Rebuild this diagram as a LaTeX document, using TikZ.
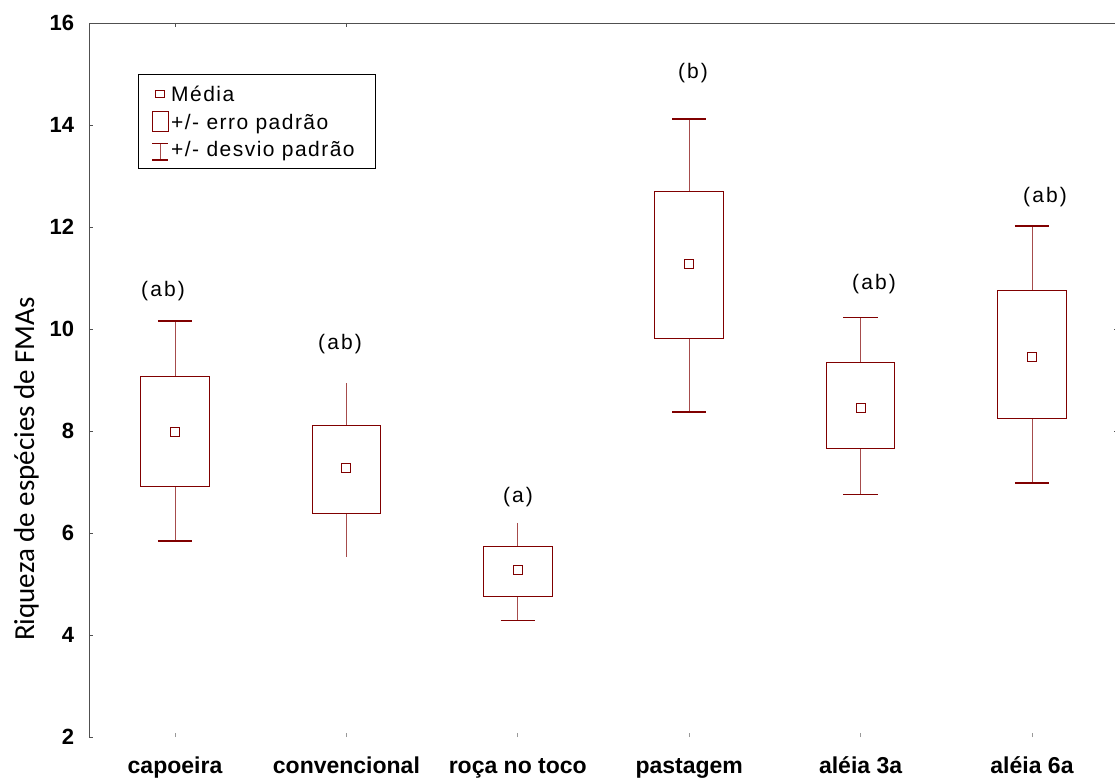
\documentclass[tikz,border=0pt]{standalone}
\usepackage{fontspec}
\setmainfont{Liberation Sans}
\newfontfamily\calibrifont{Carlito}
\usepackage{tikz}
\usetikzlibrary{positioning}
\definecolor{box_red}		{RGB}{128,0,0}
\definecolor{axis_gray}		{RGB}{80,80,80}

\begin{document}
\begin{tikzpicture}[
		boxR/.style     = {draw = box_red,
			line width     = 1pt},
		whiskR/.style   = {draw = box_red!70,
			line width     = 1pt},
		capR/.style     = {draw = box_red,
			line width     = 1.4pt},
		axisL/.style    = {draw = axis_gray,
			line width     = 0.8pt},
		tickL/.style    = {anchor = east,
			inner sep      = 0pt,
			font = \bfseries\fontsize{22}{22}\selectfont},
		catL/.style     = {anchor = base,
			inner sep      = 0pt,
			font = \bfseries\fontsize{23}{23}\selectfont},
		grpL/.style     = {inner sep = 0pt,
			font = \fontsize{21}{21}\selectfont\addfontfeature{LetterSpace=10}},
		legT/.style     = {anchor = base west,
			inner sep      = 0pt,
			font = \fontsize{21}{21}\selectfont\addfontfeature{LetterSpace=7}}]
		
		\useasboundingbox (0,0) rectangle (1115pt,780pt);
		
		% plot area: x = treatment, y = riqueza
		\begin{scope}[shift={(3.6pt,-59pt)}, x=171.4pt, y=51pt]
			
			\draw[axisL] (0.5,2) -- (0.5,16) -- (6.5,16);
			\foreach \v in {2,4,...,16}
			{
				\draw[axisL] (0.5,\v) -- ++(4pt,0);
				\node[tickL] (tick\v) at ([xshift=-15pt]0.5,\v) {\v};
			}
			\foreach \x in {1,2}
				\draw[axisL] (\x,16) -- ++(0,-4pt);
			\foreach \v in {8,10}
				\draw[axisL] (6.5,\v) -- ++(-4pt,0);
			\foreach \x in {1,...,6}
				\draw[axisL, draw = black!40] (\x,2) -- ++(0,4pt);
			
			% boxes: i / min / -ep / media / +ep / max / cap top / cap bottom
			\foreach \i/\wlo/\blo/\mn/\bhi/\whi/\ct/\cb in
			{1/5.84/6.92/7.98/9.06/10.16/1/1,
				2/5.53/6.39/7.27/8.10/8.94/0/0,
				3/4.29/4.76/5.27/5.73/6.20/0/1,
				4/8.37/9.82/11.27/12.69/14.12/1/1,
				5/6.76/7.65/8.45/9.35/10.22/1/1,
				6/6.98/8.24/9.45/10.76/12.02/1/1}
			{
				\draw[whiskR] (\i,\whi) -- (\i,\bhi) (\i,\blo) -- (\i,\wlo);
				\draw[boxR] (\i-0.2,\blo) rectangle (\i+0.2,\bhi);
				\draw[boxR] ([shift={(-4.5pt,-4.5pt)}]\i,\mn) rectangle ([shift={(4.5pt,4.5pt)}]\i,\mn);
				\ifnum\ct=1 \draw[capR] (\i-0.1,\whi) -- (\i+0.1,\whi); \fi
				\ifnum\cb=1 \draw[capR] (\i-0.1,\wlo) -- (\i+0.1,\wlo); \fi
			}
			
			% treatments
			\foreach \name [count=\k] in {capoeira, convencional, roça no toco,
				pastagem, aléia 3a, aléia 6a}
				\node[catL] (cat\k) at ([yshift=-36pt]\k,2) {\name};
		\end{scope}
		
		% letters
		\node[grpL] (grpA) at (163pt,489pt) {(ab)};
		\node[grpL] (grpB) at (340pt,436pt) {(ab)};
		\node[grpL] (grpC) at (518pt,283pt) {(a)};
		\node[grpL] (grpD) at (693pt,707pt) {(b)};
		\node[grpL] (grpE) at (874pt,496pt) {(ab)};
		\node[grpL] (grpF) at (1045pt,583pt) {(ab)};
		
		\node[rotate=90, anchor=base, inner sep=0pt,
			font=\calibrifont\fontsize{29}{29}\selectfont] (ytitle) at (34pt,311pt)
			{Riqueza de espécies de FMAs};
		
		% legend
		\draw[line width=0.8pt] (138pt,612pt) rectangle (375pt,706pt);
		\draw[boxR] (155.5pt,682pt) rectangle (164.5pt,689pt);
		\node[legT] (legMedia) at (171pt,678pt) {Média};
		\draw[boxR] (152pt,648pt) rectangle (168pt,668pt);
		\node[legT] (legErro) at (171pt,650pt) {+/- erro padrão};
		\draw[whiskR] (160pt,636pt) -- (160pt,620pt);
		\draw[boxR] (152pt,636pt) -- (168pt,636pt);
		\draw[capR] (152pt,620pt) -- (168pt,620pt);
		\node[legT] (legDesvio) at (171pt,623pt) {+/- desvio padrão};
		
	\end{tikzpicture}
\end{document}
